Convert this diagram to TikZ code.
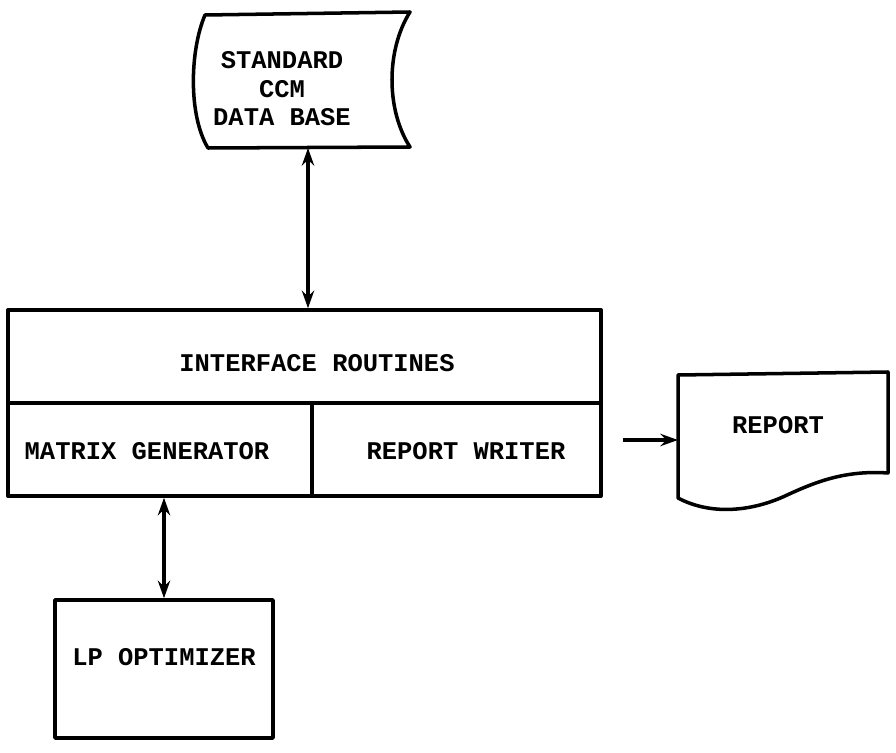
\documentclass[tikz,border=0pt]{standalone}
\usepackage{fontspec}
\setmonofont{Liberation Mono}
\usetikzlibrary{arrows.meta}
\tikzset{
  box/.style={draw, line width=2pt, inner sep=0pt},
  lbl/.style={font=\ttfamily\bfseries\fontsize{14.5}{16.2}\selectfont, align=center},
  link/.style={draw, line width=2pt, arrows={Stealth[length=10pt,width=7pt]-Stealth[length=10pt,width=7pt]}},
  feed/.style={draw, line width=2pt, arrows={-Stealth[length=10pt,width=7pt]}}
}
\begin{document}
\begin{tikzpicture}[x=0.02cm, y=-0.02cm, line join=round]
		\useasboundingbox (0,0) rectangle (896,753);
		% Data base
		\draw[line width=2pt] (205,15) -- (410,12)
			.. controls (386,50) and (386,110) .. (410,147) -- (208,148)
			.. controls (188,115) and (190,50) .. (205,15) -- cycle;
		\node[lbl] (db) at (282,89) {STANDARD\\CCM\\DATA BASE};
		\coordinate (dbfoot) at (308,148);
		% Interface routines
		\node[box, minimum width=11.86cm, minimum height=3.72cm] (iface) at (304.5,403) {};
		\draw[line width=2pt] (8,403) -- (601,403);
		\draw[line width=2pt] (312,403) -- (312,496);
		\node[lbl] (routines) at (317,363) {INTERFACE ROUTINES};
		\node[lbl] (matgen) at (147,451) {MATRIX GENERATOR};
		\node[lbl] (writer) at (466,451) {REPORT WRITER};
		% Report
		\draw[line width=2pt] (678,375) -- (888,372) -- (888,473)
			.. controls (845,470) and (815,482) .. (785,496)
			.. controls (750,512) and (710,515) .. (678,498) -- cycle;
		\node[lbl] (rep) at (778,425) {REPORT};
		\coordinate (repout) at (623,440);
		\coordinate (repin) at (678,440);
		% LP optimizer
		\node[box, minimum width=4.36cm, minimum height=2.76cm] (lp) at (164,669) {};
		\node[lbl] (lptext) at ([yshift=0.24cm]lp.center) {LP OPTIMIZER};
		% Links
		\path[link] (dbfoot) -- (iface.north -| dbfoot);
		\path[link] (lp.north |- iface.south) -- (lp.north);
		\path[feed] (repout) -- (repin);
	\end{tikzpicture}
\end{document}
